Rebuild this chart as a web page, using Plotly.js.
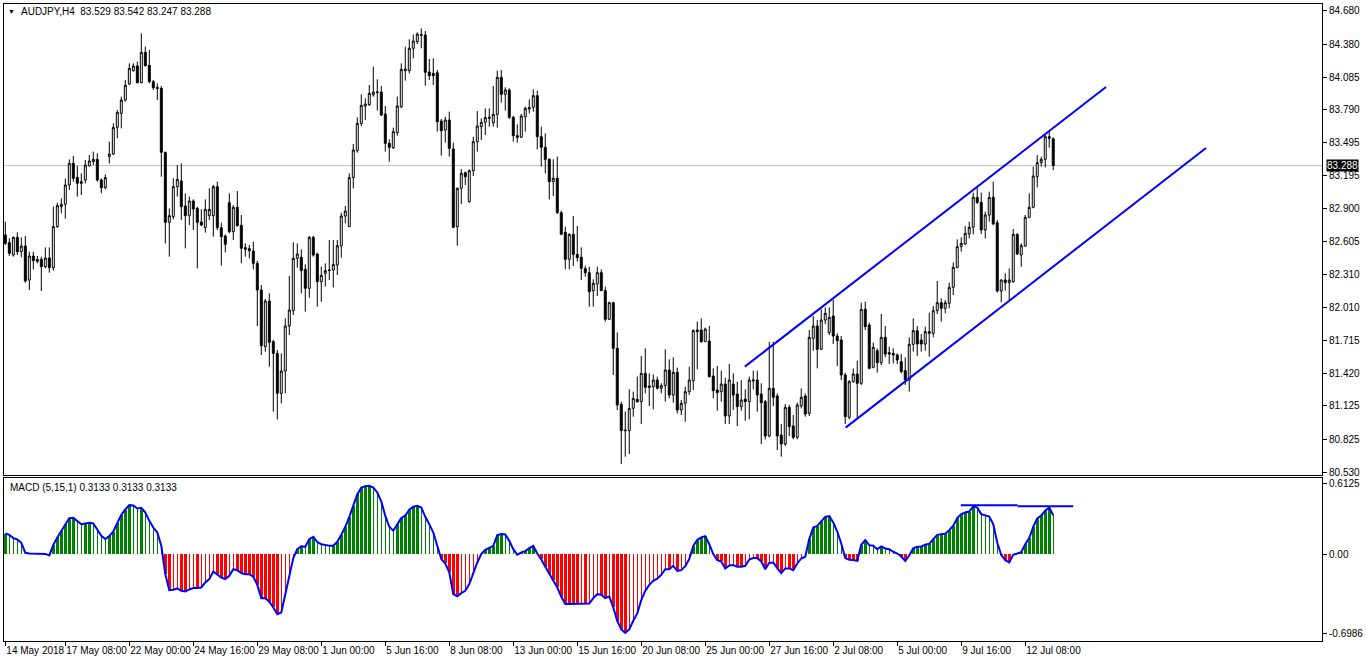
<!DOCTYPE html>
<html><head><meta charset="utf-8">
<script src="https://cdn.plot.ly/plotly-3.0.1.min.js"></script>
<style>html,body{margin:0;padding:0;background:#fff;overflow:hidden}#chart{width:1366px;height:665px}</style>
</head><body><div id="chart"></div>
<script>
const openP = [82.663,82.594,82.483,82.642,82.513,82.564,82.258,82.474,82.426,82.444,82.378,82.456,82.369,82.738,82.918,82.939,83.113,83.308,83.182,83.143,83.158,83.287,83.323,83.344,83.158,83.089,83.368,83.392,83.632,83.758,83.878,84.022,84.142,84.184,84.034,84.307,84.190,84.043,83.992,83.983,83.407,82.777,82.828,83.098,83.149,82.924,82.837,82.969,82.903,82.780,82.729,82.837,82.837,83.098,82.729,82.654,82.954,82.693,82.912,82.750,82.549,82.540,82.519,82.408,82.168,81.658,82.069,81.703,81.598,81.238,81.439,81.844,81.982,82.453,82.462,82.354,82.183,82.642,82.492,82.243,82.318,82.342,82.348,82.393,82.567,82.834,82.738,83.179,83.422,83.668,83.824,83.836,83.926,83.944,83.950,83.752,83.488,83.449,83.584,83.818,84.142,84.142,84.343,84.403,84.460,84.463,84.130,84.118,84.124,83.689,83.608,83.698,83.437,82.738,83.083,83.224,82.963,83.242,83.503,83.638,83.677,83.713,83.674,83.749,84.082,83.929,83.968,83.722,83.557,83.542,83.728,83.797,83.812,83.917,83.548,83.452,83.344,83.143,83.173,82.864,82.687,82.444,82.669,82.489,82.462,82.360,82.324,82.162,82.222,82.324,82.162,81.904,82.054,81.643,81.139,80.908,80.902,81.103,81.184,81.163,81.418,81.304,81.298,81.358,81.283,81.307,81.448,81.223,81.427,81.088,81.148,81.253,81.352,81.808,81.808,81.703,81.709,81.394,81.268,81.253,81.322,81.034,81.322,81.232,81.118,81.187,81.163,81.349,81.358,81.232,81.163,80.854,81.283,81.214,80.863,80.782,81.112,80.944,80.842,81.124,81.214,81.058,81.733,81.844,81.634,81.898,81.784,81.934,81.754,81.718,81.403,81.022,81.343,81.412,81.328,81.994,81.853,81.472,81.622,81.514,81.742,81.604,81.598,81.583,81.523,81.442,81.358,81.679,81.802,81.718,81.682,81.793,81.778,81.982,82.054,82.003,82.048,82.192,82.372,82.558,82.582,82.672,82.732,83.002,82.957,82.708,82.843,83.002,82.774,82.159,82.258,82.234,82.243,82.669,82.483,82.564,82.822,82.912,83.188,83.314,83.344,83.548,83.529];
const highP = [82.783,82.633,82.648,82.687,82.642,82.654,82.513,82.513,82.474,82.468,82.552,82.552,82.918,82.954,82.993,83.170,83.344,83.374,83.284,83.218,83.338,83.383,83.413,83.398,83.173,83.209,83.503,83.668,83.788,83.908,84.058,84.208,84.208,84.223,84.478,84.358,84.328,84.058,84.028,84.004,83.413,82.903,83.173,83.293,83.308,83.038,83.008,82.984,82.918,82.894,82.984,83.083,83.113,83.143,82.774,82.669,83.038,82.933,83.059,82.843,82.588,82.573,82.603,82.432,82.213,82.087,82.138,81.718,81.628,81.598,81.913,82.294,82.597,82.588,82.534,82.399,82.654,82.654,82.504,82.378,82.408,82.618,82.618,82.618,82.864,82.924,83.218,83.482,83.722,83.929,83.893,84.013,84.178,84.064,84.004,83.824,83.524,83.629,83.908,84.208,84.358,84.424,84.469,84.487,84.523,84.499,84.247,84.253,84.148,83.707,83.728,83.773,83.494,83.092,83.257,83.233,83.254,83.548,83.779,83.713,83.803,83.803,84.004,84.142,84.148,83.992,83.983,83.734,83.659,83.752,83.818,83.884,83.974,83.962,83.638,83.578,83.353,83.344,83.368,82.882,82.738,82.678,82.834,82.744,82.552,82.387,82.378,82.264,82.378,82.354,82.198,82.063,82.063,81.787,81.163,81.073,81.274,81.253,81.388,81.574,81.643,81.418,81.409,81.388,81.328,81.634,81.544,81.562,81.469,81.178,81.298,81.478,81.814,81.883,81.913,81.829,81.844,81.463,81.484,81.442,81.379,81.502,81.418,81.343,81.358,81.274,81.388,81.442,81.442,81.328,81.178,81.703,81.703,81.238,80.962,81.142,81.133,81.043,81.154,81.283,81.238,81.808,81.934,81.898,81.994,82.012,82.012,82.078,81.778,81.754,81.424,81.358,81.463,81.532,82.054,82.063,81.874,81.694,81.643,81.952,81.844,81.658,81.643,81.598,81.592,81.562,81.742,81.913,81.844,81.772,81.838,81.964,82.024,82.249,82.093,82.078,82.234,82.417,82.624,82.642,82.744,82.783,83.044,83.089,83.044,82.873,83.053,83.143,82.798,82.264,82.318,82.363,82.717,82.678,82.588,82.843,83.038,83.278,83.383,83.368,83.563,83.593,83.542];
const lowP = [82.573,82.474,82.468,82.483,82.462,82.234,82.168,82.354,82.408,82.159,82.363,82.324,82.342,82.726,82.858,82.810,83.068,83.143,83.008,83.023,83.128,83.278,83.293,83.143,83.038,83.074,83.308,83.383,83.533,83.623,83.863,84.013,84.133,84.028,84.028,84.178,84.028,83.968,83.878,83.188,82.588,82.468,82.804,83.008,82.798,82.543,82.753,82.708,82.363,82.744,82.684,82.798,82.648,82.708,82.387,82.507,82.678,82.618,82.738,82.408,82.468,82.453,82.354,81.844,81.583,81.613,81.478,81.073,81.004,81.148,81.238,81.763,81.943,82.369,82.138,81.973,82.099,82.468,82.018,82.063,82.198,82.258,82.192,82.303,82.459,82.768,82.738,83.083,83.404,83.644,83.698,83.824,83.908,83.782,83.734,83.413,83.323,83.437,83.557,83.803,84.052,84.118,84.253,84.382,84.343,84.007,84.058,84.013,83.593,83.377,83.494,83.368,82.723,82.567,82.942,83.113,82.954,83.194,83.413,83.518,83.563,83.638,83.638,83.629,83.854,83.782,83.707,83.503,83.494,83.539,83.593,83.758,83.773,83.434,83.278,83.218,82.984,83.014,82.852,82.663,82.354,82.354,82.384,82.423,82.258,82.288,82.018,82.018,82.114,82.159,81.883,81.898,81.403,81.088,80.602,80.668,80.692,81.028,81.154,80.962,81.238,81.124,81.094,81.274,81.238,81.163,81.193,81.154,81.058,81.043,80.983,81.223,81.268,81.454,81.694,81.703,81.382,81.193,81.082,81.163,80.962,80.962,81.088,80.944,81.082,80.992,81.004,81.274,81.073,80.782,80.824,80.842,81.124,80.728,80.668,80.764,80.854,80.824,80.824,81.103,81.028,81.034,81.622,81.463,81.628,81.862,81.763,81.682,81.484,81.358,80.962,81.004,81.334,81.013,81.313,81.808,81.454,81.463,81.424,81.493,81.562,81.502,81.508,81.502,81.418,81.313,81.253,81.613,81.574,81.613,81.622,81.568,81.742,81.952,81.883,81.958,82.003,82.123,82.363,82.513,82.573,82.633,82.669,82.942,82.672,82.633,82.783,82.753,82.144,82.057,82.162,82.078,82.234,82.483,82.378,82.558,82.813,82.903,83.092,83.278,83.272,83.449,83.247];
const closeP = [82.588,82.498,82.642,82.513,82.564,82.249,82.474,82.432,82.444,82.378,82.456,82.369,82.738,82.927,82.939,83.113,83.308,83.173,83.128,83.128,83.293,83.329,83.344,83.158,83.089,83.179,83.392,83.632,83.767,83.878,84.010,84.163,84.184,84.034,84.307,84.187,84.043,83.989,83.980,83.407,82.777,82.837,83.098,83.164,82.918,82.837,82.969,82.897,82.777,82.753,82.894,82.894,83.098,82.729,82.648,82.579,82.693,82.912,82.747,82.543,82.534,82.522,82.408,82.168,81.667,82.069,81.697,81.598,81.238,81.439,81.844,81.988,82.453,82.492,82.342,82.183,82.642,82.483,82.243,82.300,82.342,82.348,82.399,82.567,82.834,82.879,83.179,83.428,83.668,83.830,83.842,83.938,83.950,83.950,83.743,83.488,83.452,83.593,83.824,84.154,84.157,84.343,84.409,84.472,84.466,84.127,84.097,84.097,83.683,83.602,83.698,83.443,82.732,83.083,83.218,83.188,83.242,83.503,83.644,83.677,83.719,83.722,83.749,84.082,83.929,83.968,83.722,83.557,83.542,83.734,83.803,83.809,83.917,83.548,83.452,83.344,83.143,83.173,82.864,82.669,82.444,82.669,82.489,82.459,82.363,82.324,82.153,82.228,82.324,82.162,81.904,82.054,81.643,81.133,80.902,80.902,81.103,81.193,81.163,81.418,81.292,81.292,81.358,81.283,81.307,81.448,81.223,81.427,81.088,81.148,81.253,81.358,81.802,81.793,81.703,81.817,81.388,81.262,81.244,81.322,81.034,81.358,81.223,81.118,81.178,81.163,81.358,81.358,81.223,81.154,80.854,81.283,81.202,80.854,80.782,81.112,80.938,80.842,81.133,81.202,81.052,81.742,81.844,81.634,81.898,81.958,81.922,81.754,81.712,81.403,81.028,81.343,81.412,81.328,81.994,81.838,81.463,81.652,81.514,81.742,81.592,81.592,81.583,81.538,81.433,81.358,81.679,81.802,81.682,81.682,81.793,81.778,81.982,82.054,82.003,82.054,82.192,82.372,82.558,82.588,82.678,82.732,83.002,82.957,82.708,82.843,83.002,82.762,82.159,82.258,82.234,82.258,82.669,82.492,82.567,82.822,82.912,83.194,83.314,83.344,83.548,83.533,83.288];
const macd = [0.166,0.155,0.129,0.118,0.091,0.011,0.006,0.005,0.004,0.003,0.002,-0.010,0.075,0.134,0.188,0.241,0.290,0.292,0.263,0.241,0.247,0.252,0.247,0.201,0.147,0.121,0.145,0.182,0.247,0.316,0.359,0.394,0.391,0.367,0.373,0.335,0.268,0.214,0.174,0.067,-0.161,-0.290,-0.287,-0.276,-0.295,-0.300,-0.284,-0.273,-0.273,-0.268,-0.228,-0.201,-0.139,-0.161,-0.188,-0.201,-0.174,-0.121,-0.129,-0.153,-0.161,-0.161,-0.182,-0.247,-0.354,-0.354,-0.383,-0.429,-0.483,-0.469,-0.322,-0.188,-0.032,0.040,0.064,0.059,0.121,0.139,0.097,0.080,0.072,0.067,0.067,0.099,0.155,0.220,0.300,0.389,0.480,
0.536,0.547,0.550,0.536,0.496,0.424,0.308,0.220,0.188,0.241,0.290,0.311,0.357,0.381,0.389,0.375,0.300,0.241,0.174,0.067,-0.040,-0.075,-0.147,-0.322,-0.340,-0.314,-0.295,-0.241,-0.147,-0.067,0.000,0.035,0.051,0.067,0.153,0.161,0.158,0.107,0.040,-0.005,0.013,0.024,0.048,0.067,0.005,-0.043,-0.102,-0.161,-0.209,-0.268,-0.343,-0.402,-0.402,-0.402,-0.402,-0.399,-0.402,-0.397,-0.354,-0.322,-0.327,-0.354,-0.340,-0.429,-0.536,-0.606,-0.633,-0.606,-0.536,-0.477,-0.370,-0.295,-0.247,-0.214,-0.198,-0.166,-0.121,-0.121,-0.094,-0.134,-0.129,-0.097,-0.040,0.067,0.115,0.134,0.145,
0.080,0.000,-0.048,-0.059,-0.115,-0.091,-0.088,-0.102,-0.102,-0.094,-0.043,-0.032,-0.032,-0.059,-0.121,-0.070,-0.067,-0.113,-0.153,-0.115,-0.115,-0.129,-0.075,-0.035,-0.021,0.121,0.214,0.228,0.263,0.300,0.306,0.255,0.182,0.086,-0.032,-0.046,-0.048,-0.054,0.075,0.113,0.072,0.067,0.040,0.062,0.046,0.040,0.019,0.005,-0.019,-0.054,-0.011,0.046,0.059,0.062,0.075,0.083,0.121,0.155,0.161,0.164,0.193,0.228,0.290,0.322,0.335,0.343,0.383,0.375,0.322,0.311,0.303,0.241,0.094,-0.008,-0.048,-0.067,-0.005,0.005,0.016,0.080,0.129,0.220,0.287,0.311,0.349,0.375,0.313];

const dateTickIdx = [0,15,31,47,63,79,95,111,127,143,159,175,191,207,223,239,255];
const dateTickText = ["14 May 2018","17 May 08:00","22 May 00:00","24 May 16:00","29 May 08:00","1 Jun 00:00","5 Jun 16:00","8 Jun 08:00","13 Jun 00:00","15 Jun 16:00","20 Jun 08:00","25 Jun 00:00","27 Jun 16:00","2 Jul 08:00","5 Jul 00:00","9 Jul 16:00","12 Jul 08:00"];
const priceTicks = [84.680,84.380,84.085,83.790,83.495,83.195,82.900,82.605,82.310,82.010,81.715,81.420,81.125,80.825,80.530];
const priceTickText = ["84.680","84.380","84.085","83.790","83.495","83.195","82.900","82.605","82.310","82.010","81.715","81.420","81.125","80.825","80.530"];
const macdMax = 0.6125, macdMin = -0.6986;
const macdTickText = ["0.6125","0.00","-0.6986"];
const lastPrice = 83.288;
const headerText = "AUDJPY,H4  83.529 83.542 83.247 83.288";
const macdText = "MACD (5,15,1) 0.3133 0.3133 0.3133";
const upperChannelX = [184.9, 275.2], upperChannelY = [81.478, 83.995];
const lowerChannelX = [210.1, 300.2], lowerChannelY = [80.929, 83.446];
const macdLevel1X = [238.9, 253.1], macdLevel1Y = [0.394, 0.394];
const macdLevel2X = [253.1, 267.0], macdLevel2Y = [0.386, 0.386];

const idx = openP.map((_, i) => i);
const histColor = macd.map(v => v >= 0 ? '#008000' : '#ff0000');
const histWidth = macd.map((v, i) => {
  const p = i > 0 ? macd[i - 1] : v;
  const grow = v >= 0 ? v >= p : v <= p;
  return grow ? 0.72 : 0.25;
});

const xr = [-0.33, 329.2];
const traces = [
  {type:'candlestick', x: idx, open: openP, high: highP, low: lowP, close: closeP,
   xaxis:'x', yaxis:'y', whiskerwidth: 0, hoverinfo:'skip',
   increasing:{line:{color:'#000000', width:1}, fillcolor:'#ffffff'},
   decreasing:{line:{color:'#000000', width:1}, fillcolor:'#000000'}},
  {type:'bar', x: idx, y: macd, width: histWidth, marker:{color: histColor, line:{width:0}},
   xaxis:'x2', yaxis:'y2', hoverinfo:'skip'},
  {type:'scatter', mode:'lines', x: idx, y: macd, line:{color:'#0000ff', width:2},
   xaxis:'x2', yaxis:'y2', hoverinfo:'skip'}
];

const px = v => (v - 4) / 1318;
const py = v => (641 - v) / 637;
const layout = {
  width:1366, height:665,
  margin:{l:4, r:44, t:4, b:24, pad:0},
  paper_bgcolor:'#ffffff', plot_bgcolor:'#ffffff',
  showlegend:false, hovermode:false, bargap:0,
  font:{family:'"Liberation Sans", Arial, sans-serif', size:10, color:'#000000'},
  xaxis:{domain:[0,1], anchor:'y', range:xr, showticklabels:false, ticks:'', showgrid:false,
    zeroline:false, showline:true, mirror:true, linecolor:'#000000', linewidth:1,
    rangeslider:{visible:false}, fixedrange:true},
  yaxis:{domain:[0.2606,1], anchor:'x', side:'right', range:[80.503,84.742],
    tickmode:'array', tickvals:priceTicks, ticktext:priceTickText, ticks:'outside', ticklen:4,
    tickcolor:'#000000', showgrid:false, zeroline:false, showline:true, mirror:true,
    linecolor:'#000000', linewidth:1, tickfont:{size:10}, fixedrange:true},
  xaxis2:{domain:[0,1], anchor:'y2', range:xr, tickmode:'array', tickvals:dateTickIdx,
    ticktext:dateTickText, ticklabelposition:'outside right', tickangle:0, ticks:'outside', ticklen:4,
    tickcolor:'#000000', showgrid:false, zeroline:false, showline:true, mirror:true,
    linecolor:'#000000', linewidth:1, tickfont:{size:10}, fixedrange:true, automargin:false},
  yaxis2:{domain:[0,0.2559], anchor:'x2', side:'right', range:[macdMin, macdMax],
    tickmode:'array', tickvals:[macdMax - 0.045, 0, macdMin + 0.06], ticktext:macdTickText,
    ticks:'outside', ticklen:4, tickcolor:'#000000', showgrid:false, zeroline:false,
    showline:true, mirror:true, linecolor:'#000000', linewidth:1, tickfont:{size:10}, fixedrange:true},
  shapes:[
    {type:'line', xref:'paper', yref:'y', x0:0, x1:1, y0:lastPrice, y1:lastPrice,
     line:{color:'#c0c0c0', width:1}, layer:'below'},
    {type:'line', xref:'x', yref:'y', x0:upperChannelX[0], x1:upperChannelX[1], y0:upperChannelY[0], y1:upperChannelY[1],
     line:{color:'#0000ff', width:2}},
    {type:'line', xref:'x', yref:'y', x0:lowerChannelX[0], x1:lowerChannelX[1], y0:lowerChannelY[0], y1:lowerChannelY[1],
     line:{color:'#0000ff', width:2}},
    {type:'line', xref:'x2', yref:'y2', x0:macdLevel1X[0], x1:macdLevel1X[1], y0:macdLevel1Y[0], y1:macdLevel1Y[1],
     line:{color:'#0000ff', width:2}},
    {type:'line', xref:'x2', yref:'y2', x0:macdLevel2X[0], x1:macdLevel2X[1], y0:macdLevel2Y[0], y1:macdLevel2Y[1],
     line:{color:'#0000ff', width:2}}
  ],
  annotations:[
    {xref:'paper', yref:'paper', x:px(6), y:py(12), xanchor:'left', yanchor:'middle', showarrow:false,
     text:'▼', font:{size:7, color:'#000000'}},
    {xref:'paper', yref:'paper', x:px(19), y:py(12), xanchor:'left', yanchor:'middle', showarrow:false,
     text:headerText, font:{size:10, color:'#000000'}},
    {xref:'paper', yref:'paper', x:px(8), y:py(487), xanchor:'left', yanchor:'middle', showarrow:false,
     text:macdText, font:{size:10, color:'#000000'}},
    {xref:'paper', yref:'y', x:1, y:lastPrice, xanchor:'left', yanchor:'middle', xshift:4, showarrow:false,
     text:lastPrice.toFixed(3), font:{size:10, color:'#ffffff'}, bgcolor:'#000000', borderpad:0}
  ]
};
Plotly.newPlot('chart', traces, layout, {displayModeBar:false, staticPlot:true});
</script></body></html>
